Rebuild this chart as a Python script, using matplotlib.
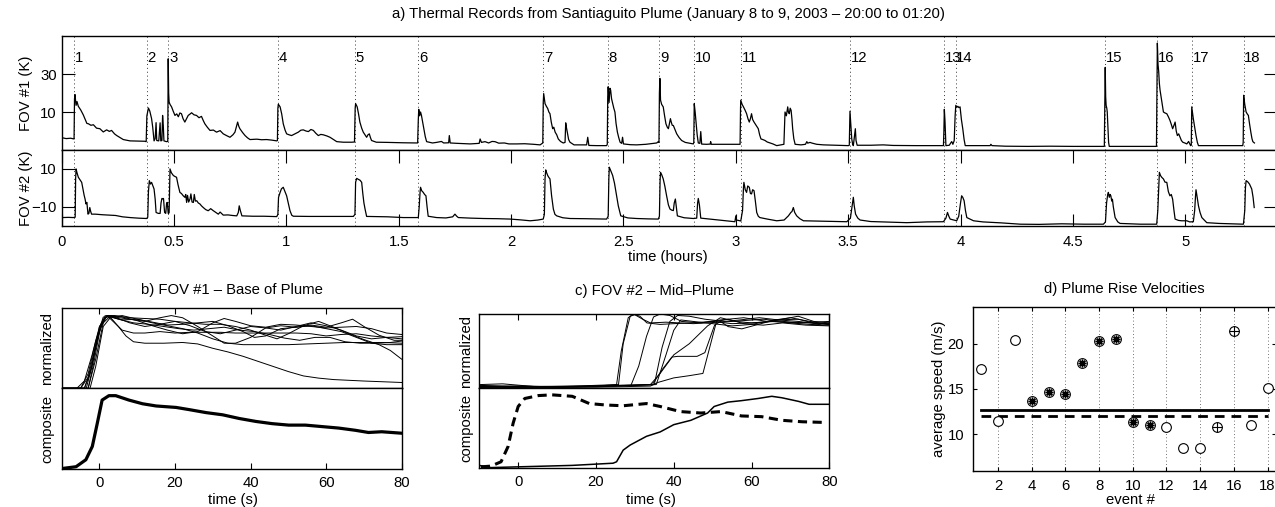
import numpy as np
import matplotlib
matplotlib.use('Agg')
import matplotlib.pyplot as plt

FS = 10.7
plt.rcParams['font.family'] = ['Liberation Sans', 'DejaVu Sans']
plt.rcParams['font.size'] = FS
plt.rcParams['axes.linewidth'] = 1.0

# ---------------- data ----------------
event_hours = [0.056, 0.378, 0.475, 0.961, 1.305, 1.587, 2.143, 2.430, 2.660,
               2.815, 3.022, 3.508, 3.928, 3.978, 4.643, 4.876, 5.029, 5.260]
event_labels = [str(i) for i in range(1, 19)]

hour_ticks = [0, 0.5, 1, 1.5, 2, 2.5, 3, 3.5, 4, 4.5, 5]
hour_tick_labels = ['0', '0.5', '1', '1.5', '2', '2.5', '3', '3.5', '4', '4.5', '5']
fov1_ticks = [10, 30]
fov2_ticks = [-10, 10]

fov1_pts = [
    (0.0, -3.5), (0.02, -4.0), (0.04, -3.8), (0.055, -4.2),
    (0.057, 17.0), (0.059, 19.2), (0.064, 13.5), (0.068, 15.5), (0.074, 13.0), (0.085, 11.0),
    (0.096, 8.5), (0.105, 6.0), (0.112, 4.0), (0.119, 3.8), (0.13, 3.0), (0.141, 3.3),
    (0.155, 1.5), (0.17, 1.2), (0.185, -0.5), (0.2, 0.6), (0.212, -0.2), (0.222, 0.3),
    (0.235, -1.5), (0.245, -2.4), (0.26, -3.5), (0.274, -4.5), (0.304, -5.2), (0.37, -5.4),
    (0.376, -5.6),
    (0.379, 8.0), (0.386, 12.1), (0.392, 10.5), (0.400, 6.5), (0.405, 2.0), (0.411, -5.2),
    (0.416, -4.0), (0.420, 4.4), (0.423, -5.0), (0.432, -5.2), (0.438, 4.3), (0.441, -5.2),
    (0.446, -5.0), (0.449, 8.2), (0.452, 3.0), (0.455, -5.2), (0.466, -5.6), (0.472, -5.5),
    (0.474, 38.0), (0.476, 20.0), (0.478, 15.3), (0.482, 14.0), (0.489, 12.7), (0.496, 10.5),
    (0.504, 8.2), (0.512, 9.0), (0.519, 7.5), (0.526, 9.5), (0.533, 9.1), (0.540, 6.5),
    (0.548, 4.7), (0.556, 6.5), (0.563, 8.2), (0.570, 8.8), (0.578, 9.6), (0.589, 8.5),
    (0.600, 8.2), (0.611, 7.0), (0.622, 7.7), (0.630, 5.5), (0.637, 3.8), (0.648, 2.0),
    (0.660, 0.3), (0.675, 0.5), (0.689, -0.6), (0.705, 0.2), (0.719, -1.5), (0.735, -2.5),
    (0.749, -3.3), (0.762, -2.0), (0.771, -0.6), (0.778, 2.5), (0.783, 4.7), (0.788, 2.5),
    (0.793, 1.2), (0.805, -0.8), (0.816, -2.4), (0.827, -3.6), (0.838, -4.5), (0.868, -4.3),
    (0.890, -4.6), (0.912, -4.5), (0.935, -4.8), (0.957, -5.2), (0.960, -5.0),
    (0.962, 12.0), (0.964, 14.1), (0.972, 12.7), (0.979, 9.0), (0.986, 3.8), (0.994, 0.5),
    (1.001, -1.5), (1.012, -2.0), (1.023, -2.4), (1.038, -1.5), (1.053, -0.6), (1.064, 0.4),
    (1.075, 0.6), (1.087, 0.0), (1.098, -0.3), (1.109, 0.8), (1.120, 0.3), (1.131, -1.2),
    (1.142, -2.4), (1.153, -1.8), (1.164, -2.0), (1.180, -2.6), (1.194, -3.3), (1.210, -4.5),
    (1.224, -5.6), (1.253, -5.9), (1.290, -5.9), (1.303, -5.8),
    (1.306, 12.0), (1.308, 14.4), (1.315, 12.7), (1.321, 9.0), (1.327, 4.7), (1.335, 1.5),
    (1.342, -0.6), (1.350, -2.0), (1.357, -3.3), (1.363, -2.0), (1.369, -1.5), (1.374, -3.5),
    (1.379, -5.0), (1.400, -5.9), (1.45, -6.0), (1.52, -6.2), (1.584, -6.3),
    (1.587, 6.0), (1.589, 11.4), (1.593, 8.0), (1.597, 10.0), (1.601, 8.2), (1.606, 5.0),
    (1.612, 1.2), (1.618, -3.0), (1.624, -5.6), (1.650, -6.3), (1.668, -6.0), (1.690, -5.5),
    (1.700, -6.3), (1.722, -6.2), (1.725, -2.4), (1.729, -6.3), (1.760, -6.5), (1.818, -6.8),
    (1.858, -6.5), (1.862, -4.2), (1.868, -6.0), (1.884, -5.6), (1.900, -6.3), (1.915, -5.5),
    (1.928, -5.6), (1.945, -6.4), (1.970, -6.3), (1.990, -6.8), (2.025, -6.8), (2.060, -6.7),
    (2.100, -7.0), (2.129, -7.3), (2.141, -6.3),
    (2.143, 15.0), (2.145, 19.7), (2.151, 14.4), (2.157, 13.0), (2.163, 11.8), (2.168, 10.0),
    (2.173, 9.1), (2.179, 4.5), (2.185, 1.2), (2.190, 2.0), (2.196, -0.6), (2.203, -2.0),
    (2.210, -4.2), (2.220, -5.5), (2.232, -6.3), (2.240, -6.0), (2.243, 4.3), (2.246, 2.0),
    (2.250, -0.6), (2.256, -4.5), (2.262, -5.9), (2.280, -7.3), (2.292, -7.3), (2.336, -7.3),
    (2.341, -3.3), (2.346, -7.6), (2.380, -7.7), (2.425, -7.7), (2.428, -7.0),
    (2.430, 18.0), (2.432, 23.3), (2.436, 15.0), (2.440, 22.5), (2.443, 21.5), (2.447, 17.0),
    (2.452, 14.4), (2.457, 12.0), (2.462, 10.0), (2.467, 4.0), (2.473, -0.6), (2.479, -3.5),
    (2.485, -5.9), (2.492, -6.5), (2.496, -3.3), (2.500, -6.8), (2.530, -7.2), (2.559, -7.3),
    (2.600, -7.0), (2.648, -6.3), (2.655, -5.6), (2.658, -6.0),
    (2.660, 20.0), (2.662, 27.7), (2.665, 16.2), (2.670, 14.0), (2.677, 12.7), (2.683, 8.0),
    (2.689, 3.8), (2.695, 2.0), (2.700, 1.2), (2.705, 4.0), (2.709, 6.5), (2.712, 5.0),
    (2.717, 3.0), (2.722, 2.9), (2.730, 0.5), (2.737, -1.5), (2.748, -3.5), (2.759, -5.0),
    (2.775, -6.0), (2.789, -6.3), (2.811, -6.8), (2.813, -6.0),
    (2.815, 14.4), (2.819, 10.0), (2.823, 4.7), (2.828, -2.0), (2.833, -6.3), (2.840, -6.5),
    (2.844, -0.3), (2.848, -6.9), (2.870, -7.0), (2.886, -6.9), (2.888, -5.6), (2.891, -7.0),
    (2.950, -7.0), (3.019, -7.0),
    (3.021, 12.0), (3.022, 16.2), (3.028, 14.0), (3.034, 12.7), (3.041, 11.0), (3.048, 9.1),
    (3.054, 6.5), (3.060, 4.7), (3.065, 6.5), (3.070, 9.1), (3.075, 6.0), (3.081, 4.7),
    (3.090, 3.0), (3.100, 1.2), (3.106, -2.0), (3.112, -4.2), (3.120, -4.5), (3.130, -5.0),
    (3.140, -5.8), (3.152, -6.3), (3.165, -6.8), (3.182, -7.7), (3.200, -7.3), (3.214, -7.0),
    (3.219, 10.0), (3.225, 8.0), (3.231, 12.7), (3.234, 10.0), (3.238, 9.1), (3.242, 12.0),
    (3.246, 10.9), (3.250, 6.0), (3.253, 1.2), (3.258, -4.0), (3.264, -7.0), (3.290, -7.3),
    (3.310, -7.0), (3.316, -5.6), (3.320, -6.4), (3.330, -6.0), (3.340, -6.4), (3.360, -7.0),
    (3.390, -7.3), (3.440, -7.5), (3.501, -7.7), (3.505, -7.5),
    (3.508, 10.4), (3.512, 3.0), (3.516, -4.2), (3.520, -7.0), (3.523, -7.7), (3.528, -3.0),
    (3.532, 1.2), (3.535, -5.0), (3.540, -7.5), (3.600, -7.5), (3.656, -7.3), (3.700, -7.6),
    (3.800, -7.7), (3.924, -7.7),
    (3.926, 0.0), (3.928, 11.4), (3.931, 5.0), (3.935, -7.7), (3.950, -7.5), (3.958, -6.0),
    (3.961, -5.6), (3.966, -7.0), (3.972, -5.0), (3.976, 8.0), (3.979, 13.5), (3.984, 12.5),
    (3.988, 13.0), (3.993, 12.3), (3.998, 12.7), (4.004, 6.0), (4.010, 1.2), (4.016, -4.5),
    (4.021, -7.7), (4.060, -7.7), (4.132, -7.7), (4.135, -7.0), (4.140, -7.7), (4.200, -8.0),
    (4.300, -8.1), (4.400, -8.0), (4.500, -8.1), (4.600, -8.1), (4.640, -8.1),
    (4.642, 15.0), (4.644, 33.5), (4.646, 18.0), (4.648, 13.5), (4.651, 12.0), (4.653, 10.0),
    (4.656, 2.0), (4.659, -6.0), (4.662, -8.1), (4.700, -8.1), (4.800, -8.1), (4.872, -8.1),
    (4.874, 20.0), (4.876, 46.3), (4.879, 35.0), (4.882, 31.2), (4.885, 25.0), (4.888, 21.5),
    (4.895, 16.0), (4.903, 10.0), (4.910, 9.5), (4.918, 9.1), (4.925, 7.5), (4.932, 5.6),
    (4.938, 3.5), (4.944, 1.2), (4.950, 3.0), (4.955, 4.7), (4.960, 0.0), (4.965, -2.4),
    (4.971, -1.5), (4.977, -3.3), (4.983, -5.0), (4.989, -5.9), (5.000, -6.4), (5.007, -6.8),
    (5.015, -5.5), (5.024, -7.7), (5.027, -7.5),
    (5.029, 12.7), (5.033, 9.0), (5.036, 6.5), (5.042, 2.0), (5.048, -2.4), (5.054, -6.0),
    (5.059, -7.7), (5.100, -7.7), (5.200, -7.7), (5.256, -7.7), (5.258, -6.0),
    (5.260, 18.8), (5.265, 14.0), (5.271, 10.0), (5.276, 9.0), (5.281, 8.2), (5.286, 4.0),
    (5.292, -0.6), (5.297, -4.0), (5.301, -5.6), (5.308, -6.3),
]

fov2_pts = [
    (0.0, -15.7), (0.03, -15.6), (0.052, -15.7), (0.060, -15.5),
    (0.062, 5.0), (0.064, 10.0), (0.068, 8.0), (0.074, 5.6), (0.080, 4.5), (0.089, 2.9),
    (0.095, -1.0), (0.100, -4.0), (0.104, -5.9), (0.108, -8.5), (0.112, -7.7), (0.117, -13.9),
    (0.121, -13.5), (0.125, -10.4), (0.129, -12.5), (0.133, -13.9), (0.150, -13.9),
    (0.180, -14.2), (0.215, -14.4), (0.240, -14.6), (0.270, -15.3), (0.304, -15.7),
    (0.340, -16.0), (0.378, -16.2), (0.383, -15.5),
    (0.386, -2.0), (0.390, 3.8), (0.395, 2.0), (0.400, 2.9), (0.406, 1.0), (0.411, -0.6),
    (0.416, -6.0), (0.420, -13.0), (0.430, -13.5), (0.438, -13.5), (0.442, -8.0),
    (0.446, -5.6), (0.450, -5.8), (0.453, -5.6), (0.458, -13.0), (0.463, -13.5), (0.467, -8.0),
    (0.470, -7.7), (0.474, -13.5), (0.478, -13.2),
    (0.481, 5.0), (0.482, 10.0), (0.488, 8.0), (0.497, 6.5), (0.504, 6.0), (0.511, 5.6),
    (0.518, 1.5), (0.526, -2.4), (0.533, -3.0), (0.541, -4.2), (0.548, -5.0), (0.552, -3.5),
    (0.556, -7.7), (0.560, -4.0), (0.565, -7.5), (0.571, -5.9), (0.575, -3.2), (0.580, -7.5),
    (0.586, -7.7), (0.590, -3.5), (0.595, -7.0), (0.601, -6.8), (0.608, -8.0), (0.615, -8.5),
    (0.622, -9.5), (0.630, -10.4), (0.641, -11.5), (0.652, -12.1), (0.663, -11.0),
    (0.675, -12.1), (0.686, -13.0), (0.697, -13.9), (0.705, -12.8), (0.719, -14.4),
    (0.740, -14.3), (0.760, -14.6), (0.779, -14.8), (0.786, -13.0), (0.790, -9.5),
    (0.795, -12.0), (0.802, -14.8), (0.850, -15.0), (0.900, -15.0), (0.957, -15.2),
    (0.962, -14.0),
    (0.965, -5.0), (0.972, -2.4), (0.978, -0.5), (0.986, 0.3), (0.992, -1.5), (1.001, -4.2),
    (1.008, -8.0), (1.016, -12.1), (1.024, -14.5), (1.031, -15.0), (1.100, -15.1),
    (1.200, -15.1), (1.298, -15.1), (1.305, -14.0),
    (1.308, 3.0), (1.313, 5.0), (1.320, 4.5), (1.328, 4.0), (1.335, 2.9), (1.340, -3.0),
    (1.345, -8.0), (1.350, -11.2), (1.357, -15.1), (1.400, -15.2), (1.450, -15.3),
    (1.521, -15.7), (1.587, -15.7), (1.591, -10.0),
    (1.595, -2.0), (1.597, 0.3), (1.602, -1.5), (1.609, -2.4), (1.615, -3.5), (1.621, -4.2),
    (1.626, -10.0), (1.631, -15.0), (1.668, -15.7), (1.710, -15.9), (1.740, -15.3),
    (1.750, -13.9), (1.758, -15.0), (1.765, -15.7), (1.820, -16.0), (1.877, -16.2),
    (1.940, -16.3), (1.996, -16.5), (2.040, -16.9), (2.085, -17.4), (2.120, -17.0),
    (2.143, -16.5), (2.148, -14.0),
    (2.151, 5.0), (2.154, 9.5), (2.158, 8.0), (2.163, 6.5), (2.168, 5.5), (2.173, 4.7),
    (2.180, -4.0), (2.188, -11.2), (2.195, -14.0), (2.203, -14.8), (2.230, -15.8),
    (2.262, -16.2), (2.330, -16.3), (2.425, -16.5), (2.432, -15.0),
    (2.435, 5.0), (2.437, 10.9), (2.442, 9.5), (2.447, 8.0), (2.452, 6.5), (2.460, 2.5),
    (2.467, -2.4), (2.472, -6.0), (2.477, -9.5), (2.483, -12.5), (2.488, -14.8),
    (2.520, -15.9), (2.559, -16.2), (2.610, -16.4), (2.655, -16.5), (2.660, -15.0),
    (2.663, 4.0), (2.665, 8.2), (2.670, 7.0), (2.677, 4.7), (2.684, 1.0), (2.692, -4.2),
    (2.700, -9.0), (2.707, -11.2), (2.715, -11.8), (2.722, -12.0), (2.726, -8.0),
    (2.731, -5.9), (2.735, -10.0), (2.740, -14.8), (2.770, -15.8), (2.811, -16.2),
    (2.826, -16.0),
    (2.830, -8.0), (2.833, -5.6), (2.838, -9.0), (2.844, -16.0), (2.885, -16.5),
    (2.940, -17.2), (2.996, -17.9), (3.000, -14.8), (3.003, -17.0), (3.022, -17.5),
    (3.030, -12.0),
    (3.034, 0.0), (3.036, 2.9), (3.042, -1.0), (3.048, -2.4), (3.053, 1.0), (3.060, 0.3),
    (3.065, -3.0), (3.070, -3.2), (3.075, -1.0), (3.081, -1.5), (3.087, -7.0), (3.093, -13.0),
    (3.100, -15.0), (3.107, -15.7), (3.140, -16.5), (3.182, -17.4), (3.215, -17.0),
    (3.234, -14.8), (3.245, -13.0), (3.250, -12.5), (3.256, -10.4), (3.262, -13.0),
    (3.271, -14.8), (3.285, -16.3), (3.301, -17.4), (3.380, -17.6), (3.440, -17.8),
    (3.494, -17.9), (3.510, -16.0),
    (3.518, -9.0), (3.523, -5.0), (3.527, -9.5), (3.533, -13.9), (3.543, -16.0),
    (3.553, -17.0), (3.600, -17.8), (3.650, -18.0), (3.700, -18.2), (3.761, -18.4),
    (3.850, -18.0), (3.924, -17.9), (3.935, -16.0),
    (3.942, -13.0), (3.948, -15.0), (3.954, -16.5), (3.970, -17.0), (3.983, -17.4),
    (3.992, -15.0), (4.000, -8.0), (4.005, -4.2), (4.010, -5.0), (4.016, -6.8),
    (4.022, -12.0), (4.028, -15.7), (4.058, -17.4), (4.100, -18.0), (4.180, -18.5),
    (4.266, -19.2), (4.350, -19.3), (4.450, -19.0), (4.550, -19.2), (4.636, -19.2),
    (4.645, -18.0),
    (4.650, -8.0), (4.655, -3.5), (4.658, -2.4), (4.662, -5.0), (4.666, -3.5), (4.669, -4.2),
    (4.673, -7.0), (4.676, -6.0), (4.680, -10.0), (4.688, -15.7), (4.700, -18.0),
    (4.710, -18.8), (4.800, -19.2), (4.873, -19.2), (4.878, -12.0),
    (4.882, 0.0), (4.885, 8.2), (4.890, 6.5), (4.896, 5.5), (4.903, 4.7), (4.910, 3.0),
    (4.918, 2.9), (4.925, -2.0), (4.932, -4.2), (4.938, -3.5), (4.944, -6.0), (4.950, -12.0),
    (4.955, -16.5), (4.970, -17.2), (4.984, -17.4), (5.007, -17.4), (5.020, -18.0),
    (5.036, -17.9), (5.042, -12.0),
    (5.046, -4.0), (5.048, -1.0), (5.053, -5.0), (5.059, -9.5), (5.066, -13.0),
    (5.074, -15.7), (5.096, -18.4), (5.150, -18.8), (5.200, -19.0), (5.259, -19.2),
    (5.265, -12.0),
    (5.268, 0.0), (5.271, 3.8), (5.278, 3.2), (5.286, 2.0), (5.292, 0.5), (5.296, -0.6),
    (5.302, -5.0), (5.307, -10.4),
]

# panel b: normalized FOV #1 records (time s, normalized value)
b_norm_curves = [
    [(-10, 0), (-5, 0), (-3, 0.15), (-1, 0.6), (1, 0.95), (2.5, 1.0), (5, 0.96), (8, 0.9),
     (12, 0.85), (16, 0.88), (20, 0.92), (24, 0.86), (28, 0.78), (32, 0.75), (36, 0.8),
     (40, 0.85), (44, 0.83), (48, 0.8), (52, 0.85), (56, 0.9), (60, 0.86), (64, 0.8),
     (68, 0.72), (72, 0.68), (76, 0.7), (80, 0.71)],
    [(-10, 0), (-4, 0), (-2.5, 0.2), (-0.5, 0.7), (1.5, 1.0), (3, 0.97), (5, 0.85), (7, 0.72),
     (9, 0.64), (12, 0.62), (17, 0.62), (22, 0.63), (26, 0.61), (30, 0.55), (34, 0.5),
     (38, 0.44), (42, 0.37), (46, 0.3), (50, 0.23), (54, 0.17), (58, 0.14), (62, 0.12),
     (66, 0.11), (70, 0.1), (75, 0.09), (80, 0.08)],
    [(-10, 0), (-4, 0), (-2, 0.3), (0, 0.8), (2, 1.0), (4, 0.98), (8, 0.95), (12, 0.92),
     (16, 0.97), (19, 1.0), (22, 0.97), (26, 0.85), (30, 0.72), (33, 0.62), (36, 0.62),
     (40, 0.7), (44, 0.83), (48, 0.86), (52, 0.84), (56, 0.86), (60, 0.82), (64, 0.78),
     (68, 0.7), (72, 0.62), (76, 0.6), (80, 0.6)],
    [(-10, 0), (-3, 0), (-1, 0.4), (1, 0.9), (3, 1.0), (6, 0.98), (10, 0.93), (14, 0.86),
     (18, 0.8), (22, 0.75), (26, 0.78), (30, 0.9), (33, 0.96), (36, 0.92), (40, 0.86),
     (44, 0.84), (48, 0.88), (52, 0.87), (56, 0.85), (60, 0.83), (64, 0.84), (68, 0.85),
     (72, 0.82), (76, 0.76), (80, 0.74)],
    [(-10, 0), (-6, 0), (-4, 0.1), (-2, 0.45), (0, 0.85), (2, 1.0), (4, 1.0), (8, 0.97),
     (12, 0.96), (16, 0.95), (20, 0.92), (24, 0.9), (28, 0.88), (32, 0.88), (36, 0.85),
     (40, 0.8), (44, 0.73), (47, 0.68), (50, 0.75), (54, 0.86), (58, 0.92), (62, 0.84),
     (66, 0.75), (70, 0.67), (74, 0.6), (77, 0.52), (80, 0.4)],
    [(-10, 0), (-3, 0), (-1.5, 0.35), (0.5, 0.9), (2, 1.0), (5, 0.95), (9, 0.9), (13, 0.88),
     (17, 0.85), (21, 0.82), (25, 0.8), (29, 0.82), (33, 0.84), (37, 0.8), (41, 0.78),
     (45, 0.74), (49, 0.69), (53, 0.66), (57, 0.7), (61, 0.7), (65, 0.64), (69, 0.62),
     (73, 0.62), (77, 0.63), (80, 0.65)],
    [(-10, 0), (-5, 0), (-3, 0.2), (-1, 0.65), (1, 0.98), (3, 0.98), (6, 0.94), (10, 0.95),
     (14, 0.91), (18, 0.87), (22, 0.88), (26, 0.9), (30, 0.92), (34, 0.86), (38, 0.78),
     (41, 0.7), (44, 0.72), (48, 0.82), (52, 0.84), (56, 0.87), (60, 0.84), (64, 0.9),
     (67, 0.95), (70, 0.85), (74, 0.73), (78, 0.66), (80, 0.66)],
    [(-10, 0), (-2.5, 0), (-1, 0.3), (1, 0.85), (3, 0.98), (6, 1.0), (10, 0.95), (14, 0.9),
     (18, 0.86), (22, 0.82), (26, 0.76), (30, 0.68), (34, 0.62), (38, 0.6), (42, 0.6),
     (46, 0.6), (50, 0.6), (55, 0.61), (60, 0.62), (65, 0.63), (70, 0.63), (75, 0.63),
     (80, 0.62)],
    [(-10, 0), (-3.5, 0), (-2, 0.3), (0, 0.85), (2, 1.0), (4, 0.9), (6, 0.8), (9, 0.76),
     (12, 0.76), (16, 0.78), (20, 0.76), (24, 0.77), (28, 0.77), (32, 0.77), (36, 0.76),
     (40, 0.76), (44, 0.76), (48, 0.76), (52, 0.76), (56, 0.75), (60, 0.72), (64, 0.74),
     (68, 0.75), (72, 0.72), (76, 0.7), (80, 0.68)],
]
b_composite = [(-10, 0.01), (-6.2, 0.035), (-3.6, 0.13), (-1.9, 0.31), (-0.6, 0.62),
               (0.7, 0.94), (2.5, 1.0), (4.3, 1.0), (7.8, 0.94), (11.4, 0.89), (15, 0.86),
               (20.3, 0.84), (23.8, 0.81), (28.2, 0.77), (32.6, 0.74), (37, 0.69),
               (41.4, 0.65), (45.7, 0.62), (50.1, 0.6), (54.5, 0.6), (58.9, 0.58),
               (63.3, 0.56), (67.7, 0.53), (71.2, 0.5), (74.7, 0.51), (80, 0.49)]

# panel c: normalized FOV #2 records
c_norm_curves = [
    [(-10, 0.04), (0, 0.02), (10, 0.02), (20, 0.03), (25.3, 0.05), (26.5, 0.5), (28.3, 0.95),
     (29.6, 1.0), (31.3, 0.97), (33.1, 0.88), (36.5, 0.86), (40, 0.87), (44.4, 0.88),
     (50, 0.9), (55, 0.87), (60, 0.88), (65, 0.9), (70, 0.88), (75, 0.86), (80, 0.85)],
    [(-10, 0.02), (0, 0.03), (10, 0.02), (20, 0.04), (25.8, 0.05), (27, 0.6), (28.8, 0.97),
     (30, 0.99), (32, 0.93), (34, 0.88), (38, 0.89), (45, 0.87), (55, 0.9), (63, 0.93),
     (70, 0.89), (80, 0.87)],
    [(-10, 0.03), (0, 0.02), (12, 0.03), (22, 0.03), (29, 0.04), (31, 0.3), (33, 0.7),
     (34.8, 0.96), (36.5, 1.0), (39, 0.98), (42, 0.9), (47, 0.88), (52, 0.92), (58, 0.95),
     (64, 0.9), (68, 0.93), (72, 0.97), (76, 0.9), (80, 0.88)],
    [(-10, 0.05), (-4, 0.06), (5, 0.02), (20, 0.02), (35, 0.05), (37, 0.55), (39, 0.9),
     (41, 0.98), (44, 0.97), (48, 0.93), (53, 0.9), (57, 0.92), (62, 0.95), (67, 0.92),
     (72, 0.9), (77, 0.87), (80, 0.88)],
    [(-10, 0.02), (5, 0.02), (20, 0.03), (35.5, 0.05), (38, 0.45), (40, 0.78), (41.8, 0.92),
     (45, 0.9), (50, 0.87), (55, 0.84), (60, 0.86), (66, 0.92), (70, 0.95), (75, 0.9),
     (80, 0.86)],
    [(-10, 0.03), (0, 0.03), (15, 0.02), (25, 0.04), (34, 0.05), (36.5, 0.2), (40, 0.45),
     (44, 0.6), (48.7, 0.84), (52, 0.95), (56, 0.9), (60, 0.88), (66, 0.9), (72, 0.88),
     (80, 0.9)],
    [(-10, 0.02), (10, 0.02), (25, 0.03), (34.5, 0.05), (37, 0.25), (39.5, 0.42), (41, 0.43),
     (46, 0.43), (48, 0.48), (50.5, 0.85), (52, 0.9), (54, 0.83), (57.5, 0.8), (61, 0.85),
     (66, 0.92), (72, 0.93), (78, 0.85), (80, 0.86)],
    [(-10, 0.01), (10, 0.01), (25, 0.02), (34, 0.03), (36, 0.08), (40, 0.14), (44, 0.17),
     (47.5, 0.2), (49.5, 0.6), (51, 0.9), (54, 0.93), (58, 0.87), (63, 0.85), (68, 0.88),
     (74, 0.85), (80, 0.84)],
]
c_composite_dashed = [(-9.6, 0.02), (-7, 0.03), (-4.4, 0.09), (-2.6, 0.3), (-1.3, 0.62),
                      (0, 0.85), (1.7, 0.96), (5.2, 1.0), (8.7, 1.01), (13.9, 0.99),
                      (18.3, 0.89), (22.6, 0.87), (27, 0.86), (33, 0.89), (36.5, 0.85),
                      (41.7, 0.78), (47, 0.76), (52.2, 0.78), (57.4, 0.72), (62.6, 0.71),
                      (67.8, 0.66), (73, 0.64), (79.2, 0.63)]
c_composite_solid = [(-10, 0.04), (-7, 0.01), (0, 0.02), (13.9, 0.04), (24.4, 0.07),
                     (25.3, 0.09), (27, 0.25), (28.8, 0.32), (33, 0.44), (36.5, 0.5),
                     (40, 0.6), (44.4, 0.66), (48.7, 0.76), (50.4, 0.85), (53.9, 0.91),
                     (57.4, 0.93), (61.7, 0.96), (65.2, 0.99), (67.8, 0.97), (72.1, 0.92),
                     (74.8, 0.88), (80, 0.88)]
sec_ticks = [0, 20, 40, 60, 80]

# panel d: plume rise velocities
event_ids = list(range(1, 19))
speeds = [17.2, 11.5, 20.4, 13.7, 14.7, 14.5, 17.9, 20.3, 20.5,
          11.4, 11.0, 10.8, 8.5, 8.5, 10.8, 21.4, 11.0, 15.1]
marker_kind = ['o', 'o', 'o', '*', '*', '*', '*', '*', '*',
               '*', '*', 'o', 'o', 'o', '+', '+', 'o', 'o']
mean_speed_solid = 12.73
mean_speed_dashed = 12.05
d_xticks = [2, 4, 6, 8, 10, 12, 14, 16, 18]
d_yticks = [10, 15, 20]

# ---------------- figure ----------------
W, H = 1275, 507
fig = plt.figure(figsize=(W / 100, H / 100), dpi=100)


def px_axes(l, t, r, b):
    return fig.add_axes([l / W, 1 - b / H, (r - l) / W, (b - t) / H])


def fig_xy(x, y):
    return x / W, 1 - y / H


dot_style = (0, (1, 3))

# ---- panel a ----
axA1 = px_axes(61.7, 36, 1276, 150)
axA2 = px_axes(61.7, 150, 1276, 225.7)
f1 = np.array(fov1_pts)
f2 = np.array(fov2_pts)
for ax in (axA1, axA2):
    ax.set_xlim(0, 5.404)
    for et in event_hours:
        ax.axvline(et, color='#333333', ls=dot_style, lw=0.7, zorder=1)
axA1.plot(f1[:, 0], f1[:, 1], color='k', lw=0.9, zorder=3)
axA2.plot(f2[:, 0], f2[:, 1], color='k', lw=0.9, zorder=3)
axA1.set_ylim(-10, 50)
axA1.set_yticks(fov1_ticks)
axA1.tick_params(axis='y', direction='in', left=True, right=True, length=9)
axA1.tick_params(axis='x', bottom=False, labelbottom=False)
for et, lab in zip(event_hours, event_labels):
    axA1.text(et + 0.003, 38.5, lab, ha='left', va='center', fontsize=FS)
axA2.set_ylim(-20, 20)
axA2.set_yticks(fov2_ticks)
axA2.set_xticks(hour_ticks)
axA2.set_xticklabels(hour_tick_labels)
axA2.tick_params(axis='y', direction='in', left=True, right=True, length=9)
axA2.tick_params(axis='x', direction='in', top=True, bottom=True, length=9, pad=7)
axA1.set_title('a) Thermal Records from Santiaguito Plume (January 8 to 9, 2003 \u2013 20:00 to 01:20)',
               pad=13, fontsize=FS)
axA1.set_ylabel('FOV #1 (K)', va='center')
axA1.yaxis.set_label_coords(*fig_xy(26, 93), transform=fig.transFigure)
axA2.set_ylabel('FOV #2 (K)', va='center')
axA2.yaxis.set_label_coords(*fig_xy(26, 188), transform=fig.transFigure)
axA2.set_xlabel('time (hours)', va='center')
axA2.xaxis.set_label_coords(*fig_xy(668, 257), transform=fig.transFigure)


def setup_stack(ax_top, ax_bot, title, title_pad, ylab_x, xlab_x):
    for ax in (ax_top, ax_bot):
        ax.set_xlim(-10, 80)
        ax.set_xticks(sec_ticks)
        ax.set_yticks([])
    ax_top.tick_params(axis='x', direction='in', top=True, bottom=False,
                       labelbottom=False, length=4)
    ax_bot.tick_params(axis='x', direction='in', top=False, bottom=True, length=4, pad=5)
    ax_top.set_title(title, pad=title_pad, fontsize=FS)
    ax_top.set_ylabel('normalized', va='center')
    top_c = (1 - ax_top.get_position().y0 - ax_top.get_position().height / 2)
    ax_top.yaxis.set_label_coords(ylab_x / W, 1 - top_c, transform=fig.transFigure)
    ax_bot.set_ylabel('composite', va='center')
    bot_c = (1 - ax_bot.get_position().y0 - ax_bot.get_position().height / 2)
    ax_bot.yaxis.set_label_coords(ylab_x / W, 1 - bot_c, transform=fig.transFigure)
    ax_bot.set_xlabel('time (s)', va='center')
    ax_bot.xaxis.set_label_coords(*fig_xy(xlab_x, 500), transform=fig.transFigure)


# ---- panel b ----
axB1 = px_axes(61.7, 308.3, 401.7, 388.3)
axB2 = px_axes(61.7, 388.3, 401.7, 469.3)
for cur in b_norm_curves:
    a = np.array(cur)
    axB1.plot(a[:, 0], a[:, 1], color='k', lw=0.7)
bc = np.array(b_composite)
axB2.plot(bc[:, 0], bc[:, 1], color='k', lw=2.3)
axB1.set_ylim(0, 1.1)
axB2.set_ylim(0, 1.1)
setup_stack(axB1, axB2, 'b) FOV #1 \u2013 Base of Plume', 10, 47, 233)

# ---- panel c ----
axC1 = px_axes(479.3, 314, 829.3, 388.3)
axC2 = px_axes(479.3, 388.3, 829.3, 468.3)
for cur in c_norm_curves:
    a = np.array(cur)
    axC1.plot(a[:, 0], a[:, 1], color='k', lw=0.7)
cd = np.array(c_composite_dashed)
cs = np.array(c_composite_solid)
axC2.plot(cd[:, 0], cd[:, 1], color='k', lw=2.2, dashes=(3.0, 1.8))
axC2.plot(cs[:, 0], cs[:, 1], color='k', lw=1.1)
axC1.set_ylim(0, 1.0)
axC2.set_ylim(0, 1.1)
setup_stack(axC1, axC2, 'c) FOV #2 \u2013 Mid\u2013Plume', 14, 466, 651)

# ---- panel d ----
axD = px_axes(972.7, 307.3, 1276, 470.7)
axD.set_xlim(0.5, 18.5)
axD.set_ylim(6, 24)
axD.set_xticks(d_xticks)
axD.set_yticks(d_yticks)
axD.grid(axis='x', ls=dot_style, color='#444444', lw=0.6)
axD.tick_params(direction='in', top=True, right=True, length=3, pad=6)
ev = np.array(event_ids)
sp = np.array(speeds)
kind = np.array(marker_kind)
axD.plot([ev[0], ev[-1]], [mean_speed_solid] * 2, color='k', lw=2.0, zorder=2)
axD.plot([ev[0], ev[-1]], [mean_speed_dashed] * 2, color='k', lw=2.0,
         dashes=(3.5, 2.5), zorder=2)
axD.plot(ev, sp, 'o', mfc='white', mec='k', ms=7, mew=0.8, zorder=3)
m = kind == '*'
axD.plot(ev[m], sp[m], ls='none', marker=(8, 2, 0), ms=5.5, color='k', mew=1.0, zorder=4)
m = kind == '+'
axD.plot(ev[m], sp[m], ls='none', marker='+', ms=7, color='k', mew=0.8, zorder=4)
axD.set_title('d) Plume Rise Velocities', pad=10, fontsize=FS)
axD.set_ylabel('average speed (m/s)', va='center')
axD.yaxis.set_label_coords(*fig_xy(939, 389), transform=fig.transFigure)
axD.set_xlabel('event #', va='center')
axD.xaxis.set_label_coords(*fig_xy(1130, 500), transform=fig.transFigure)

fig.savefig('out.png', dpi=100)
